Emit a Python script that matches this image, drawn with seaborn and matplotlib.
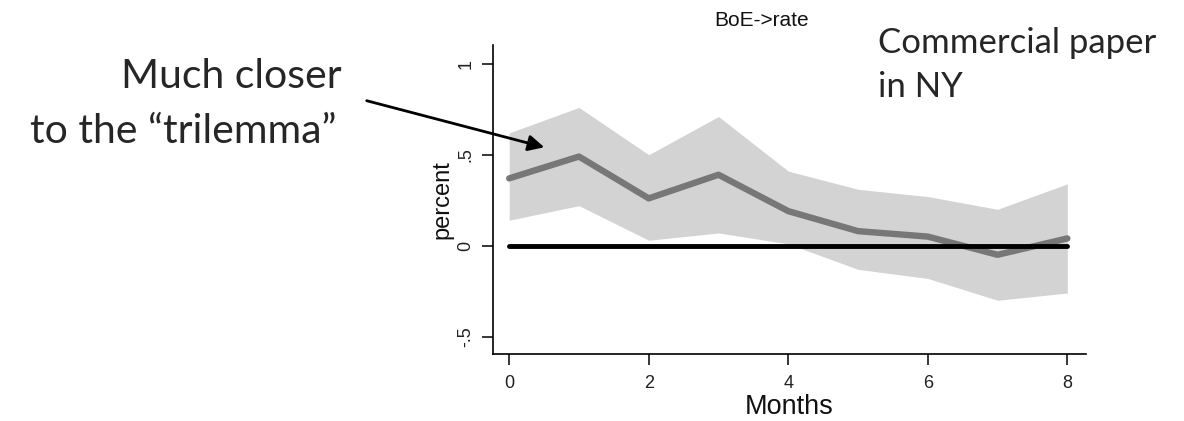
import numpy as np
import pandas as pd
import matplotlib
matplotlib.use('Agg')
import matplotlib.pyplot as plt
import seaborn as sns

# DATA
months = [0, 1, 2, 3, 4, 5, 6, 7, 8]
response = [0.37, 0.49, 0.26, 0.39, 0.19, 0.08, 0.05, -0.05, 0.04]
upper = [0.62, 0.76, 0.50, 0.71, 0.41, 0.31, 0.27, 0.20, 0.34]
lower = [0.14, 0.22, 0.03, 0.07, 0.01, -0.13, -0.18, -0.30, -0.26]
zero_line = [0, 0, 0, 0, 0, 0, 0, 0, 0]
y_ticks = [-0.5, 0, 0.5, 1]
y_tick_labels = ['-.5', '0', '.5', '1']
x_ticks = [0, 2, 4, 6, 8]

df = pd.DataFrame({'Months': months, 'percent': response, 'zero': zero_line})

sns.set_style('ticks')
plt.rcParams['font.family'] = ['Liberation Sans', 'DejaVu Sans']

fig = plt.figure(figsize=(11.84, 4.21), dpi=100)
ax = fig.add_axes([0.4161, 0.1584, 0.9172 - 0.4161, 0.8931 - 0.1584])

ax.fill_between(months, lower, upper, color='#d3d3d3', linewidth=0, zorder=1)
sns.lineplot(data=df, x='Months', y='percent', ax=ax, color='#777777',
             linewidth=4.6, solid_capstyle='round', zorder=2)
sns.lineplot(data=df, x='Months', y='zero', ax=ax, color='black',
             linewidth=3.5, solid_capstyle='round', zorder=3)

ax.set_xlim(-0.237, 8.267)
ax.set_ylim(-0.597, 1.103)
ax.set_xticks(x_ticks)
ax.set_yticks(y_ticks)
ax.set_yticklabels(y_tick_labels, rotation=90, va='center')
ax.tick_params(axis='both', length=8, width=1.1, color='black', labelsize=13,
               labelcolor='#222222')
ax.tick_params(axis='y', pad=5)
ax.tick_params(axis='x', pad=7)
ax.set_xlabel('Months', fontsize=19.5, labelpad=1, color='#111111')
ax.set_ylabel('percent', fontsize=17, labelpad=3, color='#111111')
sns.despine(ax=ax)
for s in ['left', 'bottom']:
    ax.spines[s].set_linewidth(1.2)
    ax.spines[s].set_color('black')

# panel title and slide annotations
fig.text(762 / 1184, 1 - 21 / 421, 'BoE->rate', fontsize=15, ha='center', va='center',
         color='#111111')
fig.text(878 / 1184, 1 - 53 / 421, 'Commercial paper', fontsize=25, ha='left',
         va='baseline', family=['Lato', 'DejaVu Sans'])
fig.text(878 / 1184, 1 - 97 / 421, 'in NY', fontsize=25, ha='left',
         va='baseline', family=['Lato', 'DejaVu Sans'])
fig.text(342 / 1184, 1 - 88 / 421, 'Much closer', fontsize=29.5, ha='right',
         va='baseline', family=['Lato', 'DejaVu Sans'])
fig.text(336 / 1184, 1 - 143 / 421, 'to the \u201ctrilemma\u201d', fontsize=29.5, ha='right',
         va='baseline', family=['Lato', 'DejaVu Sans'])
fig.add_artist(matplotlib.patches.FancyArrowPatch(
    (364 / 1184, 1 - 100 / 421), (547 / 1184, 1 - 148 / 421),
    transform=fig.transFigure, arrowstyle='-|>', mutation_scale=24,
    color='black', linewidth=2))

fig.savefig('out.png', dpi=100)
